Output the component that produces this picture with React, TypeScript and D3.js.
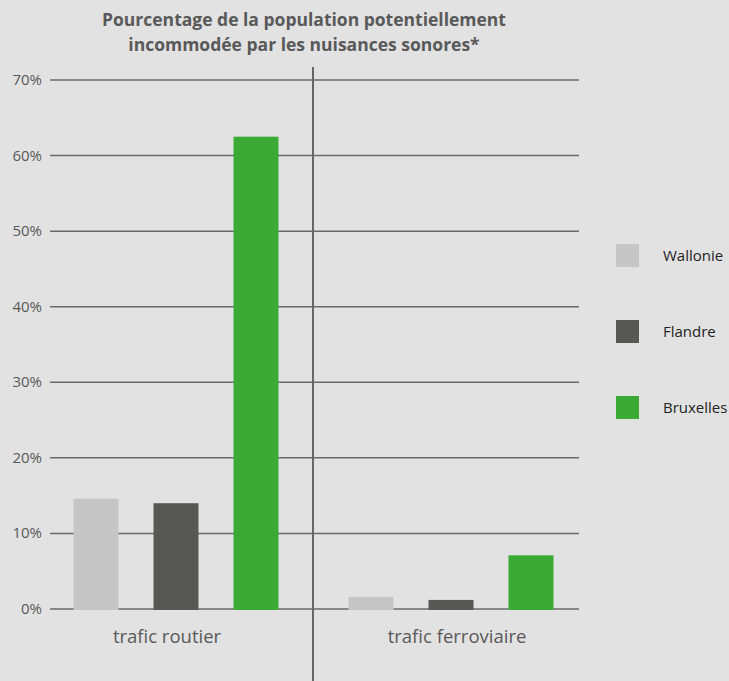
import React from "react";
import * as d3 from "d3";

const categories = ["trafic routier", "trafic ferroviaire"];
const regions = ["Wallonie", "Flandre", "Bruxelles"];
const wallonie = [14.6, 1.6];
const flandre = [14.0, 1.2];
const bruxelles = [62.5, 7.1];
const yTicks = [0, 10, 20, 30, 40, 50, 60, 70];
const titleLines = [
  "Pourcentage de la population potentiellement",
  "incommodée par les nuisances sonores*",
];

const colors: Record<string, string> = {
  Wallonie: "#c6c6c6",
  Flandre: "#575755",
  Bruxelles: "#3aaa35",
};

const W = 729;
const H = 681;

export default function App() {
  const series: Record<string, number[]> = {
    Wallonie: wallonie,
    Flandre: flandre,
    Bruxelles: bruxelles,
  };

  const y = d3.scaleLinear().domain([0, 70]).range([609, 80]);
  const x0 = d3.scaleBand<string>().domain(categories).range([38.5, 588.5]).padding(0);
  const x1 = d3
    .scaleBand<string>()
    .domain(regions)
    .range([0, x0.bandwidth()])
    .paddingInner(0.4375)
    .paddingOuter(0.4375);
  // category captions sit under each half of the plot
  const labelX = d3.scalePoint<string>().domain(categories).range([167, 457]);
  const legendY = d3.scalePoint<string>().domain(regions).range([255, 407]);

  const font = "'Open Sans', 'Noto Sans', sans-serif";
  const grey = "#595959";

  return (
    <svg
      width={W}
      height={H}
      style={{ position: "absolute", left: 0, top: 0, display: "block" }}
      fontFamily={font}
    >
      <rect width={W} height={H} fill="#e2e2e2" />

      {titleLines.map((t, i) => (
        <text
          key={t}
          x={304}
          y={26 + i * 25}
          textAnchor="middle"
          fontSize={17.5}
          fontWeight={700}
          fill={grey}
        >
          {t}
        </text>
      ))}

      {yTicks.map((v) => (
        <g key={v}>
          <line x1={50} x2={579} y1={y(v)} y2={y(v)} stroke="#6a6a6a" strokeWidth={1.5} />
          <text x={42} y={y(v) + 5} textAnchor="end" fontSize={15} fill={grey}>
            {v}%
          </text>
        </g>
      ))}

      {categories.map((c, ci) => (
        <g key={c} transform={`translate(${x0(c)},0)`}>
          {regions.map((r) => (
            <rect
              key={r}
              x={x1(r)}
              y={y(series[r][ci])}
              width={x1.bandwidth()}
              height={y(0) - y(series[r][ci]) + 1}
              fill={colors[r]}
            />
          ))}
        </g>
      ))}

      {categories.map((c) => (
        <text key={c} x={labelX(c)} y={643} textAnchor="middle" fontSize={18.5} fill={grey}>
          {c}
        </text>
      ))}

      <line x1={313} x2={313} y1={67} y2={H} stroke="#666" strokeWidth={2} />

      {regions.map((r) => (
        <g key={r}>
          <rect x={616} y={legendY(r)! - 11} width={23} height={23} fill={colors[r]} />
          <text x={663} y={legendY(r)! + 5.5} fontSize={15} fill="#222">
            {r}
          </text>
        </g>
      ))}
    </svg>
  );
}
